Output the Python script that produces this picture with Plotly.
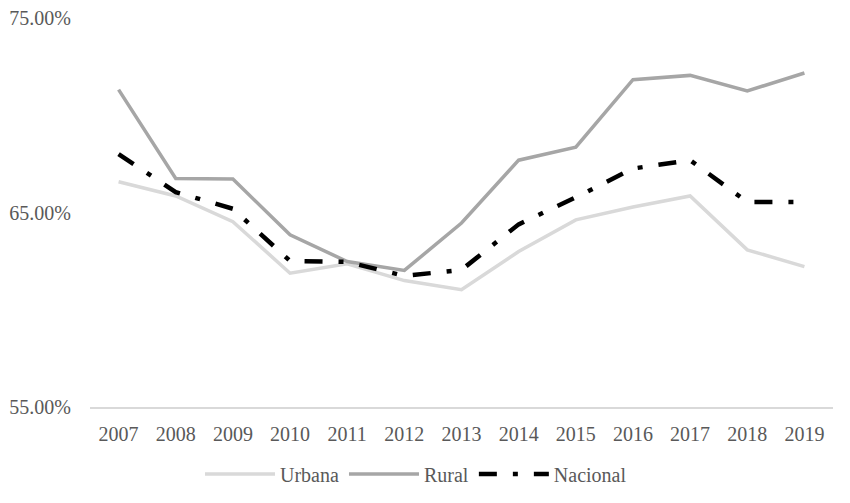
import plotly.graph_objects as go

years = ["2007", "2008", "2009", "2010", "2011", "2012", "2013",
         "2014", "2015", "2016", "2017", "2018", "2019"]
urbana = [66.58, 65.85, 64.53, 61.88, 62.36, 61.50, 61.03,
          62.99, 64.62, 65.28, 65.85, 63.08, 62.22]
rural = [71.32, 66.75, 66.72, 63.85, 62.48, 62.02, 64.46,
         67.69, 68.36, 71.83, 72.05, 71.25, 72.17]
nacional = [68.00, 66.05, 65.19, 62.51, 62.46, 61.74, 62.05,
            64.39, 65.78, 67.26, 67.69, 65.54, 65.54]
y_ticks = [55, 65, 75]
y_tick_text = ["55.00%", "65.00%", "75.00%"]

FONT = "Liberation Serif"
TXT = "#595959"
W, H = 850, 503

fig = go.Figure()
fig.add_trace(go.Scatter(x=years, y=urbana, name="Urbana", mode="lines",
                         line=dict(color="#d9d9d9", width=3.5)))
fig.add_trace(go.Scatter(x=years, y=rural, name="Rural", mode="lines",
                         line=dict(color="#a6a6a6", width=3.5)))
fig.add_trace(go.Scatter(x=years, y=nacional, name="Nacional", mode="lines",
                         line=dict(color="#000000", width=4.5,
                                   dash="18px,16px,5px,16px")))

fig.update_layout(
    width=W, height=H,
    margin=dict(l=90, r=17, t=17.5, b=95.7, autoexpand=False),
    paper_bgcolor="white", plot_bgcolor="white",
    font=dict(family=FONT, size=20, color=TXT),
    showlegend=True,
    legend=dict(orientation="h", xref="container", yref="container",
                x=200 / W, xanchor="left", y=(H - 474) / H,
                yanchor="middle", font=dict(family=FONT, size=20, color=TXT),
                itemwidth=70,
                traceorder="normal", bgcolor="rgba(0,0,0,0)"),
    xaxis=dict(type="category", range=[-0.5, 12.5], showgrid=False,
               showline=True, linecolor="#d9d9d9", linewidth=1.5,
               ticks="outside", ticklen=8, tickcolor="rgba(0,0,0,0)",
               tickfont=dict(family=FONT, size=20, color=TXT),
               zeroline=False, fixedrange=True, automargin=False),
    yaxis=dict(range=[55, 75], tickvals=y_ticks, ticktext=y_tick_text,
               showgrid=False, showline=False, zeroline=False,
               ticks="outside", ticklen=14, tickcolor="rgba(0,0,0,0)",
               tickfont=dict(family=FONT, size=20, color=TXT),
               fixedrange=True, automargin=False),
)

fig.write_html("out.html", config={"displayModeBar": False},
               post_script="document.body.style.margin='0';")
